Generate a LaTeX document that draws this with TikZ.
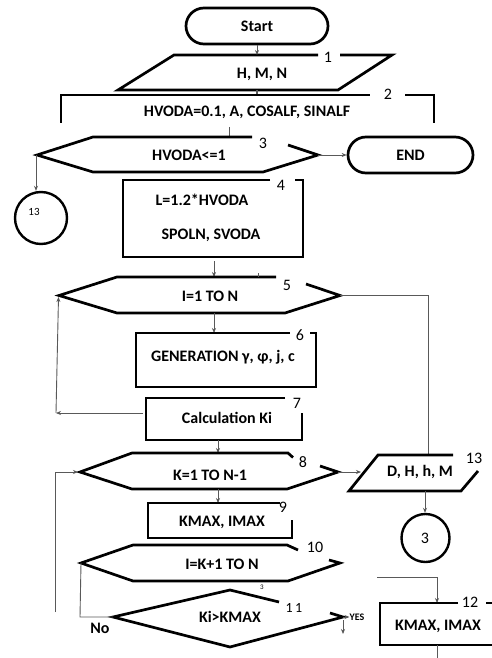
\documentclass[tikz,border=0pt]{standalone}
\usepackage{fontspec}
\setmainfont{Carlito}
\usetikzlibrary{arrows.meta}
\tikzset{
  fig/.style={line width=2.7pt, line join=miter, line cap=butt},
  term/.style={draw, fig, rounded corners=18pt, minimum height=36pt, inner sep=0pt,
     font=\fontsize{16}{18}\selectfont\bfseries},
  ring/.style={draw, circle, line width=2.4pt, inner sep=0pt},
  conn/.style={line width=0.9pt, draw=black!65, -{Stealth[length=5pt,width=4pt,fill=black]}},
  wire/.style={line width=0.9pt, draw=black!65},
  lbl/.style={inner sep=0pt, font=\fontsize{16}{18}\selectfont\bfseries},
  num/.style={inner sep=0pt, font=\fontsize{16}{18}\selectfont},
  tiny/.style={inner sep=0pt, font=\fontsize{7}{8}\selectfont}
}
\begin{document}
\begin{tikzpicture}[x=1pt,y=-1pt]
\useasboundingbox (0,0) rectangle (491,658);
\fill[white] (0,0) rectangle (491,658);

% Start
\node[term, minimum width=142pt] (start) at (257,26) {Start};
% 1
\draw[fig] (318,55) -- (174,55) -- (118,90) -- (338,90) -- (392,55) -- (340,55);
\node[lbl] (p1) at (262,74) {H, M, N};
\node[num] (n1) at (328,57) {1};
\coordinate (p1top) at (257,55);
\draw[conn] (start.south) -- (p1top);
\coordinate (p1bot) at (257,90);
\coordinate (b2top) at (257,95);
\draw[wire, line width=1.5pt] (p1bot) -- (b2top);
% 2
\draw[fig] (61,123) -- (61,95) -- (370,95);
\draw[fig] (405,95) -- (434,95) -- (434,123);
\node[lbl] (b2) at (247,112) {HVODA=0.1, A, COSALF, SINALF};
\node[num] (n2) at (388,94) {2};
\coordinate (b2out) at (229,127);
\coordinate (h3top) at (229,137);
\draw[wire] (b2out) -- (h3top);
% 3
\draw[fig] (252,137) -- (93,137) -- (37,155) -- (93,172) -- (263,172) -- (318,155) -- (288,145);
\node[lbl] (h3) at (189,155) {HVODA<=1};
\node[num] (n3) at (263,143) {3};
\node[term, minimum width=125pt] (end) at (410.5,155) {END};
\coordinate (h3r) at (318,155);
\draw[conn] (h3r) -- (end.west);
\coordinate (h3l) at (36,155);
\node[ring, minimum size=52pt] (c13) at (41,218) {};
\node[inner sep=0pt, font=\fontsize{11}{12}\selectfont] (t13) at (34,212) {13};
\draw[conn] (h3l) -- (h3l |- c13.north);
% 4
\draw[fig] (270,180) -- (123,180) -- (123,257) -- (303,257) -- (303,180) -- (295,180);
\node[lbl] (b4a) at (202,200) {L=1.2*HVODA};
\node[lbl] (b4b) at (211,235) {SPOLN, SVODA};
\node[num] (n4) at (281,185) {4};
\coordinate (b4out) at (214,261);
\coordinate (h5top) at (214,277);
\draw[conn] (b4out) -- (h5top);
% 5
\draw[fig] (276,277) -- (117,277) -- (59,295.5) -- (117,313) -- (285,313) -- (340,295.5) -- (306,284);
\node[lbl] (h5) at (210,296) {I=1 TO N};
\node[num] (n5) at (287,285) {5};
\draw[wire] (258,273) -- (258,277);
\coordinate (h5r) at (340,295.5);
\coordinate (p13top) at (428,455);
\draw[wire] (h5r) -- (428,295.5) -- (p13top);
\coordinate (h5bot) at (214,313);
\coordinate (b6top) at (214,333);
\draw[conn] (h5bot) -- (b6top);
% 6
\draw[fig] (290,333) -- (136,333) -- (136,387) -- (316,387) -- (316,333) -- (310,333);
\node[lbl] (b6) at (223,357) {GENERATION γ, φ, j, c};
\node[num] (n6) at (300,335) {6};
% 7
\draw[fig] (285,398) -- (146,398) -- (146,440) -- (302,440) -- (302,413);
\node[lbl] (b7) at (227,418) {Calculation Ki};
\node[num] (n7) at (297,403) {7};
\coordinate (b7l) at (143,413);
\coordinate (lp1) at (56,413);
\coordinate (h5l) at (58.5,297);
\draw[conn] (b7l) -- (lp1);
\draw[conn] (lp1) -- (h5l);
\coordinate (b7out) at (218,440);
\coordinate (h8top) at (218,453);
\draw[conn] (b7out) -- (h8top);
% 8
\draw[fig] (293,457.5) -- (288,453) -- (132,453) -- (80,472) -- (132,489) -- (287,489) -- (338,472) -- (320,466);
\node[lbl] (h8) at (210,475) {K=1 TO N-1};
\node[num] (n8) at (303,462) {8};
\coordinate (h8r) at (338,472);
\coordinate (p13l) at (361,472);
\draw[conn] (h8r) -- (p13l);
% 13 parallelogram
\draw[fig] (453,455) -- (378,455) -- (349,491) -- (461,491) -- (478,471);
\node[lbl] (p13) at (420,472) {D, H, h, M};
\node[num] (n13) at (474,458) {13};
\coordinate (p13bot) at (425,491);
\node[ring, minimum size=48pt] (c3) at (425.5,538) {};
\node[num] (t3) at (425,538) {3};
\draw[conn] (p13bot) -- (p13bot |- c3.north);
% left loop
\coordinate (lp2) at (55,612);
\coordinate (h8l) at (78,472);
\draw[conn] (lp2) -- (55,472) -- (h8l);
\coordinate (h8bot) at (218,489);
\coordinate (b9top) at (218,503);
\draw[conn] (h8bot) -- (b9top);
% 9
\draw[fig] (280,503) -- (148,503) -- (148,538) -- (292,538) -- (292,520);
\node[lbl] (b9) at (222,522) {KMAX, IMAX};
\node[num] (n9) at (283,507) {9};
% 10
\draw[fig] (298,550) -- (287,545) -- (133,545) -- (81,563) -- (133,581) -- (288,581) -- (340,563) -- (329,560);
\node[lbl] (h10) at (222,564) {I=K+1 TO N};
\node[num] (n10) at (315,547) {10};
\node[tiny] (s3) at (262,587) {3};
% 11
\draw[fig] (279,602) -- (230,590) -- (113,617) -- (230,647) -- (343,617) -- (330,613);
\node[lbl] (d11) at (230,617) {Ki>KMAX};
\node[inner sep=0pt, font=\fontsize{14}{16}\selectfont] (n11) at (294,608) {1\,1};
\coordinate (h10l) at (81,563);
\coordinate (d11l) at (113,617);
\draw[wire] (h10l) -- (80,617) -- (d11l);
\node[lbl] (no) at (100,628) {No};
\coordinate (d11r) at (343,617);
\node[inner sep=0pt, font=\fontsize{10}{11}\selectfont\bfseries] (yes) at (357,617) {YES};
\draw[conn] (d11r) -- (yes.west);
\coordinate (ydown) at (343,620);
\coordinate (ydown2) at (343,634);
\draw[conn] (ydown) -- (ydown2);
% 12
\coordinate (c12a) at (377,577);
\coordinate (b12top) at (437,603);
\draw[conn] (c12a) -- (437,577) -- (b12top);
\draw[fig] (458,603) -- (380,603) -- (380,645) -- (492,645);
\draw[fig] (486,603) -- (492,603);
\node[lbl] (b12) at (438,626) {KMAX, IMAX};
\node[num] (n12) at (470,602) {12};
\coordinate (b12bot) at (437,645);
\coordinate (b12out) at (437,658);
\draw[wire] (b12bot) -- (b12out);
\end{tikzpicture}
\end{document}
